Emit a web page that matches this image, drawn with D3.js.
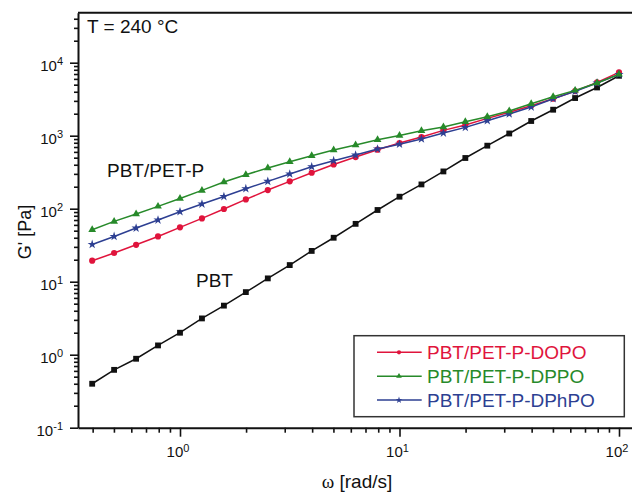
<!DOCTYPE html>
<html>
<head>
<meta charset="utf-8">
<script src="https://cdn.jsdelivr.net/npm/d3@7"></script>
<style>
  body { margin: 0; background: #fff; }
  svg { display: block; font-family: "Liberation Sans", Arial, sans-serif; }
</style>
</head>
<body>
<svg id="chart" width="632" height="492"></svg>
<script>
// angular frequency, rad/s
const omega = [0.398, 0.501, 0.631, 0.794, 1, 1.259, 1.585, 1.995, 2.512, 3.162,
  3.981, 5.012, 6.31, 7.943, 10, 12.59, 15.85, 19.95, 25.12, 31.62,
  39.81, 50.12, 63.1, 79.43, 100];

// storage modulus G', Pa
const pbt = [0.40, 0.62, 0.88, 1.34, 2.0, 3.14, 4.7, 7.2, 11.1, 16.9,
  26.4, 40, 62, 96, 146, 215, 324, 495, 730, 1072,
  1590, 2270, 3280, 4580, 6620];
const dopo = [19.4, 24.7, 32, 41.7, 55.5, 73.6, 99, 134, 180, 237,
  311, 404, 510, 643, 794, 960, 1183, 1400, 1727, 2090,
  2573, 3210, 4080, 5370, 7360];
const dppo = [51.5, 67, 84.6, 107.6, 138, 178, 232, 292, 361, 440,
  532, 637, 745, 881, 1009, 1170, 1315, 1550, 1820, 2180,
  2740, 3420, 4180, 5260, 6920];
const dphpo = [32.4, 41.7, 54.3, 70, 91, 116, 147, 188, 237, 299,
  376, 455, 543, 657, 765, 902, 1089, 1300, 1604, 1984,
  2473, 3210, 4045, 5260, 6920];

const xMajor = [1, 10, 100];
const yMajor = [0.1, 1, 10, 100, 1000, 10000];

const series = [
  { name: 'PBT', values: pbt, color: '#111', symbol: d3.symbolSquare, size: 34 },
  { name: 'PBT/PET-P-DOPO', values: dopo, color: '#e0143c', symbol: d3.symbolCircle, size: 30 },
  { name: 'PBT/PET-P-DPhPO', values: dphpo, color: '#2d3f92', symbol: d3.symbolStar, size: 26 },
  { name: 'PBT/PET-P-DPPO', values: dppo, color: '#278a2a', symbol: d3.symbolTriangle, size: 26 }
];
const legendOrder = ['PBT/PET-P-DOPO', 'PBT/PET-P-DPPO', 'PBT/PET-P-DPhPO'];

const frame = { l: 78, r: 632, t: 12.7, b: 427.7 };

const x = d3.scaleLog().domain([1, 100]).range([180, 619]);
x.domain([x.invert(frame.l), x.invert(frame.r)]).range([frame.l, frame.r]);
const y = d3.scaleLog().domain([0.1, 10000]).range([frame.b, 62.7]);
y.domain([y.invert(frame.b), y.invert(frame.t)]).range([frame.b, frame.t]);

const svg = d3.select('#chart');

// minor ticks
function minors(lo, hi) {
  const out = [];
  for (let e = Math.floor(Math.log10(lo)); e <= Math.ceil(Math.log10(hi)); e++) {
    for (let m = 2; m <= 9; m++) {
      const v = m * Math.pow(10, e);
      if (v > lo && v < hi) out.push(v);
    }
  }
  return out;
}

svg.append('g')
  .attr('transform', `translate(0,${frame.b})`)
  .call(d3.axisBottom(x).tickValues(minors(...x.domain())).tickSize(5).tickFormat(''))
  .call(g => g.select('.domain').remove());
svg.append('g')
  .attr('transform', `translate(0,${frame.b})`)
  .call(d3.axisBottom(x).tickValues(xMajor).tickSize(9).tickSizeOuter(0).tickFormat(''));

svg.append('g')
  .attr('transform', `translate(${frame.l},0)`)
  .call(d3.axisLeft(y).tickValues(minors(...y.domain())).tickSize(4).tickFormat(''))
  .call(g => g.select('.domain').remove());
svg.append('g')
  .attr('transform', `translate(${frame.l},0)`)
  .call(d3.axisLeft(y).tickValues(yMajor).tickSize(8).tickSizeOuter(0).tickFormat(''));

svg.selectAll('.domain, .tick line').attr('stroke', '#111').attr('stroke-width', 1.6);
svg.selectAll('.domain').attr('stroke-width', 2);

// top frame
svg.append('line')
  .attr('x1', frame.l).attr('x2', frame.r).attr('y1', frame.t).attr('y2', frame.t)
  .attr('stroke', '#111').attr('stroke-width', 2);

// tick labels with superscripts
const xl = svg.append('g').selectAll('text').data(xMajor).join('text')
  .attr('x', d => x(d) - 2).attr('y', 456.7)
  .attr('text-anchor', 'middle').attr('font-size', 15).attr('fill', '#111');
xl.append('tspan').text('10');
xl.append('tspan').attr('font-size', 11).attr('dy', -5).text(d => Math.round(Math.log10(d)));

const yl = svg.append('g').selectAll('text').data(yMajor).join('text')
  .attr('x', 63).attr('y', d => y(d) + 8)
  .attr('text-anchor', 'end').attr('font-size', 15).attr('fill', '#111');
yl.append('tspan').text('10');
yl.append('tspan').attr('font-size', 11).attr('dy', -6).text(d => Math.round(Math.log10(d)));

// axis titles
svg.append('text')
  .attr('transform', 'translate(31,232) rotate(-90)')
  .attr('text-anchor', 'middle').attr('font-size', 18).attr('fill', '#111')
  .text("G' [Pa]");
const xt = svg.append('text')
  .attr('x', 357).attr('y', 488)
  .attr('text-anchor', 'middle').attr('font-size', 19).attr('fill', '#111');
xt.append('tspan').attr('font-family', '"Liberation Serif", "Times New Roman", serif').text('ω');
xt.append('tspan').text(' [rad/s]');

// series
const line = d3.line().x((d, i) => x(omega[i])).y(d => y(d));
const plot = svg.append('g');
series.forEach(s => {
  const g = plot.append('g');
  g.append('path')
    .attr('d', line(s.values))
    .attr('fill', 'none').attr('stroke', s.color).attr('stroke-width', 1.5);
  g.selectAll('path.m').data(s.values).join('path')
    .attr('class', 'm')
    .attr('transform', (d, i) => `translate(${x(omega[i])},${y(d)})`)
    .attr('d', d3.symbol(s.symbol, s.size))
    .attr('fill', s.color);
});

// annotations
svg.append('text').attr('x', 87).attr('y', 33).attr('font-size', 19).attr('fill', '#111').text('T = 240 °C');
svg.append('text').attr('x', 107).attr('y', 176.5).attr('font-size', 19).attr('fill', '#111').text('PBT/PET-P');
svg.append('text').attr('x', 196).attr('y', 286.7).attr('font-size', 19).attr('fill', '#111').text('PBT');

// legend
const lg = svg.append('g');
lg.append('rect')
  .attr('x', 354).attr('y', 335.7).attr('width', 270.3).attr('height', 81)
  .attr('fill', '#fff').attr('stroke', '#333').attr('stroke-width', 1.5);
legendOrder.forEach((name, i) => {
  const s = series.find(d => d.name === name);
  const cy = 352.3 + i * 23.9;
  lg.append('line')
    .attr('x1', 377).attr('x2', 421.7).attr('y1', cy).attr('y2', cy)
    .attr('stroke', s.color).attr('stroke-width', 1.5);
  lg.append('path')
    .attr('transform', `translate(399,${cy})`)
    .attr('d', d3.symbol(s.symbol, 14))
    .attr('fill', s.color);
  lg.append('text')
    .attr('x', 427).attr('y', cy + 7)
    .attr('font-size', 19).attr('fill', s.color)
    .text(name);
});
</script>
</body>
</html>
